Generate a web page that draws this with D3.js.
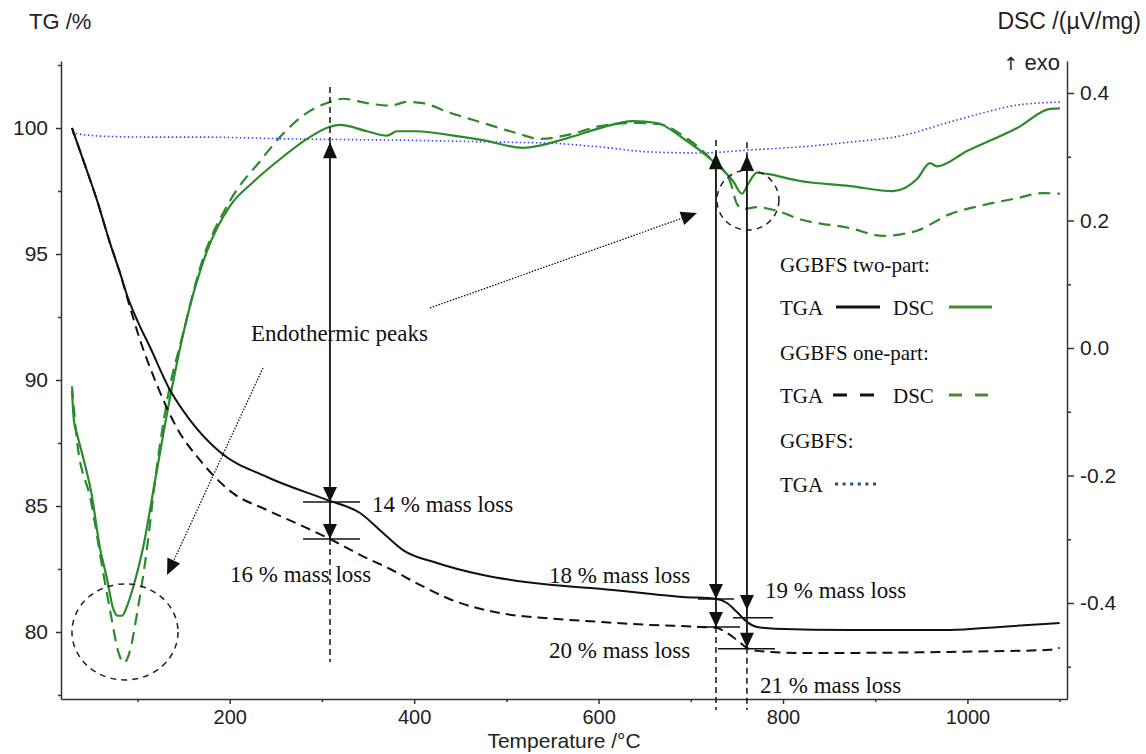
<!DOCTYPE html>
<html>
<head>
<meta charset="utf-8">
<script src="https://cdn.jsdelivr.net/npm/d3@7"></script>
<style>
  body { margin: 0; background: #fff; }
  .axis text { font-family: "Liberation Sans", Arial, sans-serif; font-size: 21px; fill: #222; }
  .axis path, .axis line { stroke: #333; stroke-width: 1.5; }
  .title { font-family: "Liberation Sans", Arial, sans-serif; font-size: 22px; fill: #222; }
  .note { font-family: "Liberation Serif", "Times New Roman", serif; fill: #111; }
</style>
</head>
<body>
<svg id="chart"></svg>
<script>
// [temperature /°C, TG /%]
const tgTwoPart = [
  [28.9, 100.0], [43.0, 98.53], [56.0, 97.14], [70.1, 95.44], [81.0, 94.25], [89.7, 93.25],
  [100.5, 92.30], [113.5, 91.31], [135.2, 89.60], [156.9, 88.41], [189.4, 87.14], [240.4, 86.15],
  [305.5, 85.24], [341.3, 84.72], [366.2, 83.93], [387.9, 83.25], [424.8, 82.74], [474.7, 82.26],
  [547.3, 81.87], [601.5, 81.72], [691.5, 81.39], [728.4, 81.31], [739.2, 81.15], [750.1, 80.79],
  [760.9, 80.40], [771.8, 80.20], [791.3, 80.13], [872.7, 80.08], [981.1, 80.08], [1035.0, 80.2],
  [1100.0, 80.36]
];
const tgOnePart = [
  [28.9, 100.0], [43.0, 98.53], [56.0, 97.14], [70.1, 95.44], [81.0, 94.25], [88.6, 93.29],
  [102.7, 91.59], [121.1, 89.80], [142.8, 88.09], [167.7, 86.82], [203.5, 85.51], [240.4, 84.84],
  [276.2, 84.25], [308.7, 83.69], [341.3, 83.06], [373.8, 82.50], [406.3, 81.87], [438.9, 81.30],
  [493.1, 80.75], [547.3, 80.54], [601.5, 80.40], [655.8, 80.28], [710.0, 80.20], [728.4, 80.16],
  [739.2, 79.96], [750.1, 79.68], [760.9, 79.37], [771.8, 79.25], [818.4, 79.17], [872.7, 79.17],
  [981.1, 79.21], [1089.0, 79.29], [1100.0, 79.37]
];
const tgSlag = [
  [28.9, 99.80], [59.3, 99.68], [113.5, 99.64], [167.7, 99.64], [276.2, 99.56], [384.6, 99.52],
  [493.1, 99.44], [547.3, 99.40], [601.5, 99.25], [655.8, 99.05], [710.0, 99.01], [764.2, 99.13],
  [818.4, 99.25], [872.7, 99.44], [926.9, 99.68], [981.1, 100.24], [1016.9, 100.60],
  [1053.8, 100.91], [1100.4, 101.03]
];
// [temperature /°C, DSC /(µV/mg)]
const dscTwoPart = [
  [28.9, -0.067], [31.1, -0.115], [34.4, -0.135], [41.9, -0.177], [49.5, -0.224], [59.3, -0.314],
  [66.9, -0.362], [73.4, -0.408], [78.8, -0.420], [83.2, -0.420], [88.6, -0.405], [95.1, -0.376],
  [105.9, -0.314], [118.9, -0.209], [135.2, -0.078], [153.6, 0.047], [175.3, 0.152], [200.3, 0.223],
  [225.2, 0.260], [257.8, 0.300], [283.8, 0.328], [308.7, 0.347], [319.6, 0.350], [348.9, 0.340],
  [370.5, 0.333], [381.4, 0.340], [403.1, 0.340], [438.9, 0.334], [474.7, 0.326], [518.0, 0.314],
  [565.8, 0.329], [601.5, 0.345], [637.3, 0.356], [663.4, 0.353], [691.5, 0.329], [724.1, 0.293],
  [745.8, 0.262], [755.5, 0.242], [762.1, 0.257], [771.8, 0.275], [782.7, 0.273], [818.4, 0.262],
  [872.7, 0.254], [919.3, 0.246], [945.3, 0.265], [959.4, 0.290], [967.0, 0.285], [999.6, 0.309],
  [1053.8, 0.345], [1089.6, 0.375], [1100.4, 0.376]
];
const dscOnePart = [
  [28.9, -0.060], [34.4, -0.146], [49.5, -0.240], [62.5, -0.350], [72.3, -0.428], [78.8, -0.475],
  [85.3, -0.494], [91.8, -0.475], [99.4, -0.417], [110.3, -0.314], [118.9, -0.209], [132.0, -0.083],
  [149.3, 0.022], [167.7, 0.125], [200.3, 0.231], [232.8, 0.293], [257.8, 0.336], [287.0, 0.372],
  [308.7, 0.386], [322.8, 0.391], [348.9, 0.384], [373.8, 0.380], [392.2, 0.386], [409.6, 0.384],
  [438.9, 0.369], [474.7, 0.353], [511.5, 0.337], [536.5, 0.328], [565.8, 0.334], [601.5, 0.348],
  [637.3, 0.353], [666.6, 0.351], [691.5, 0.333], [720.8, 0.298], [742.5, 0.262], [750.1, 0.226],
  [756.6, 0.218], [771.8, 0.221], [793.5, 0.215], [818.4, 0.202], [872.7, 0.188], [908.5, 0.176],
  [945.3, 0.184], [981.1, 0.210], [1016.9, 0.224], [1053.8, 0.235], [1082.0, 0.243], [1100.4, 0.242]
];

const xTicks = [200, 400, 600, 800, 1000];
const xMinor = [100, 300, 500, 700, 900, 1100];
const tgTicks = [80, 85, 90, 95, 100];
const tgMinor = [77.5, 82.5, 87.5, 92.5, 97.5, 102.5];
const dscTicks = [-0.4, -0.2, 0.0, 0.2, 0.4];
const dscMinor = [-0.5, -0.3, -0.1, 0.1, 0.3];

// mass-loss markers: vertical line at T, in TG units
const markers = [
  { T: 308.7, top: 101.63, up: 99.44, downs: [85.16, 83.69], bottom: 78.81,
    ticks: [[85.16, 279.5, 341.3], [83.69, 279.5, 341.3]] },
  { T: 727.3, top: 99.52, up: 99.0, downs: [81.31, 80.2], bottom: 76.9,
    ticks: [[81.31, 707.8, 746.9], [80.2, 706.7, 753.4]] },
  { T: 760.9, top: 99.44, up: 98.93, downs: [80.87, 79.37], bottom: 76.9,
    ticks: [[80.56, 745.8, 789.2], [79.33, 729.5, 791.3]] }
];
const massLabels = [
  ['14 % mass loss', 354.3, 84.76], ['16 % mass loss', 200.3, 81.98],
  ['18 % mass loss', 546.2, 81.94], ['19 % mass loss', 780.5, 81.35],
  ['20 % mass loss', 546.2, 78.97], ['21 % mass loss', 775.1, 77.58]
];
// dotted pointers [fromT, fromTG, toT, toTG]
const pointers = [[417.2, 92.86, 706.7, 96.63], [236.1, 90.48, 132.0, 82.26]];
// dashed rings [T, TG, rT, rTG]
const rings = [[86.4, 80.0, 57.5, 1.905], [762.0, 97.14, 33.6, 1.19]];

const config = {
  width: 1146, height: 754,
  left: 61, right: 1067, top: 61, bottom: 699,
  green: '#2b8a2b', black: '#111', blue: '#3d3dff'
};

const svg = d3.select('#chart')
  .attr('width', config.width)
  .attr('height', config.height);

const x = d3.scaleLinear().domain([17, 1108]).range([config.left, config.right]);
const yTG = d3.scaleLinear().domain([77.34, 102.66]).range([config.bottom, config.top]);
const yDSC = d3.scaleLinear().domain([-0.5506, 0.4502]).range([config.bottom, config.top]);

// axes
svg.append('g').attr('class', 'axis')
  .attr('transform', 'translate(0,' + config.bottom + ')')
  .call(d3.axisBottom(x).tickValues(xTicks).tickSize(5).tickSizeOuter(0).tickPadding(6).tickFormat(d3.format('d')))
  .call(g => g.selectAll('text').style('font-size', '20px'));
svg.append('g').attr('class', 'axis')
  .attr('transform', 'translate(0,' + config.bottom + ')')
  .call(d3.axisBottom(x).tickValues(xMinor).tickSize(3).tickSizeOuter(0).tickFormat(''))
  .call(g => g.select('.domain').remove());

svg.append('g').attr('class', 'axis')
  .attr('transform', 'translate(' + config.left + ',0)')
  .call(d3.axisLeft(yTG).tickValues(tgTicks).tickSize(5).tickSizeOuter(0).tickPadding(8).tickFormat(d3.format('d')));
svg.append('g').attr('class', 'axis')
  .attr('transform', 'translate(' + config.left + ',0)')
  .call(d3.axisLeft(yTG).tickValues(tgMinor).tickSize(3).tickSizeOuter(0).tickFormat(''))
  .call(g => g.select('.domain').remove());

svg.append('g').attr('class', 'axis')
  .attr('transform', 'translate(' + config.right + ',0)')
  .call(d3.axisRight(yDSC).tickValues(dscTicks).tickSize(7).tickSizeOuter(0).tickPadding(6).tickFormat(d => d.toFixed(1)));
svg.append('g').attr('class', 'axis')
  .attr('transform', 'translate(' + config.right + ',0)')
  .call(d3.axisRight(yDSC).tickValues(dscMinor).tickSize(4).tickSizeOuter(0).tickFormat(''))
  .call(g => g.select('.domain').remove());

// titles
svg.append('text').attr('class', 'title').attr('x', 29).attr('y', 29).text('TG /%');
svg.append('text').attr('class', 'title').attr('x', 1141).attr('y', 29)
  .attr('text-anchor', 'end').style('font-size', '23px').text('DSC /(µV/mg)');
const exo = svg.append('text').attr('class', 'title').attr('x', 1060).attr('y', 70)
  .attr('text-anchor', 'end');
exo.append('tspan').style('font-family', '"DejaVu Sans", sans-serif').style('font-size', '18px')
  .attr('fill', '#222').text('↑');
exo.append('tspan').text(' exo');
svg.append('text').attr('class', 'title').attr('x', 564).attr('y', 748)
  .attr('text-anchor', 'middle').style('font-size', '21px').text('Temperature /°C');

// curves
const lineTG = d3.line().x(d => x(d[0])).y(d => yTG(d[1])).curve(d3.curveMonotoneX);
const lineDSC = d3.line().x(d => x(d[0])).y(d => yDSC(d[1])).curve(d3.curveMonotoneX);

const series = [
  { data: tgSlag, line: lineTG, color: config.blue, width: 1.6, dash: '1.5,2.5' },
  { data: dscOnePart, line: lineDSC, color: config.green, width: 2.2, dash: '12,7' },
  { data: dscTwoPart, line: lineDSC, color: config.green, width: 2.2, dash: null },
  { data: tgOnePart, line: lineTG, color: config.black, width: 2, dash: '10,6' },
  { data: tgTwoPart, line: lineTG, color: config.black, width: 2, dash: null }
];
svg.append('g').selectAll('path')
  .data(series)
  .enter().append('path')
  .attr('fill', 'none')
  .attr('stroke', d => d.color)
  .attr('stroke-width', d => d.width)
  .attr('stroke-dasharray', d => d.dash)
  .attr('d', d => d.line(d.data));

// arrowhead with tip at (px,py) pointing along angle (radians)
function arrowHead(g, px, py, angle, len, half) {
  const bx = px - len * Math.cos(angle);
  const by = py - len * Math.sin(angle);
  const nx = -Math.sin(angle) * half;
  const ny = Math.cos(angle) * half;
  g.append('path')
    .attr('d', 'M' + px + ',' + py + 'L' + (bx + nx) + ',' + (by + ny) + 'L' + (bx - nx) + ',' + (by - ny) + 'Z')
    .attr('fill', config.black);
}

const ann = svg.append('g');
markers.forEach(m => {
  const mx = x(m.T);
  ann.append('line').attr('x1', mx).attr('x2', mx).attr('y1', yTG(m.top)).attr('y2', yTG(m.up))
    .attr('stroke', config.black).attr('stroke-width', 1.5).attr('stroke-dasharray', '6,4');
  const last = m.downs[m.downs.length - 1];
  ann.append('line').attr('x1', mx).attr('x2', mx).attr('y1', yTG(m.up)).attr('y2', yTG(last))
    .attr('stroke', config.black).attr('stroke-width', 1.8);
  ann.append('line').attr('x1', mx).attr('x2', mx).attr('y1', yTG(last)).attr('y2', yTG(m.bottom))
    .attr('stroke', config.black).attr('stroke-width', 1.5).attr('stroke-dasharray', '6,4');
  arrowHead(ann, mx, yTG(m.up), -Math.PI / 2, 16, 7);
  m.downs.forEach(v => arrowHead(ann, mx, yTG(v), Math.PI / 2, 15, 7));
  m.ticks.forEach(t => {
    ann.append('line').attr('x1', x(t[1])).attr('x2', x(t[2])).attr('y1', yTG(t[0])).attr('y2', yTG(t[0]))
      .attr('stroke', config.black).attr('stroke-width', 1.5);
  });
});

pointers.forEach(p => {
  const x1 = x(p[0]), y1 = yTG(p[1]), x2 = x(p[2]), y2 = yTG(p[3]);
  const a = Math.atan2(y2 - y1, x2 - x1);
  ann.append('line').attr('x1', x1).attr('y1', y1)
    .attr('x2', x2 - 12 * Math.cos(a)).attr('y2', y2 - 12 * Math.sin(a))
    .attr('stroke', config.black).attr('stroke-width', 1.3).attr('stroke-dasharray', '1.5,1.5');
  arrowHead(ann, x2, y2, a, 16, 7);
});

rings.forEach(r => {
  ann.append('ellipse')
    .attr('cx', x(r[0])).attr('cy', yTG(r[1]))
    .attr('rx', x(r[0] + r[2]) - x(r[0])).attr('ry', yTG(r[1] - r[3]) - yTG(r[1]))
    .attr('fill', 'none').attr('stroke', '#222').attr('stroke-width', 1.5).attr('stroke-dasharray', '6,5');
});

// labels
ann.selectAll('text.mass')
  .data(massLabels)
  .enter().append('text')
  .attr('class', 'note mass')
  .attr('x', d => x(d[1])).attr('y', d => yTG(d[2]))
  .style('font-size', '23px')
  .text(d => d[0]);
ann.append('text').attr('class', 'note').attr('x', x(223)).attr('y', yTG(91.55))
  .style('font-size', '23px').text('Endothermic peaks');

// legend
const legend = svg.append('g').attr('class', 'note').style('font-size', '21px');
const legendRows = [
  { y: 272, text: 'GGBFS two-part:' },
  { y: 315, text: 'TGA', keys: [{ x1: 836, x2: 880, color: config.black, dash: null }] },
  { y: 360, text: 'GGBFS one-part:' },
  { y: 403, text: 'TGA', keys: [{ x1: 833, x2: 875, color: config.black, dash: '14,13' }] },
  { y: 448, text: 'GGBFS:' },
  { y: 492, text: 'TGA', keys: [{ x1: 835, x2: 877, color: '#1f4e8c', dash: '3,4.6' }] }
];
legendRows.forEach(r => {
  legend.append('text').attr('x', 780).attr('y', r.y).text(r.text);
  (r.keys || []).forEach(k => {
    legend.append('line').attr('x1', k.x1).attr('x2', k.x2).attr('y1', r.y - 8).attr('y2', r.y - 8)
      .attr('stroke', k.color).attr('stroke-width', 3).attr('stroke-dasharray', k.dash);
  });
});
[[315, null], [403, '13,13']].forEach(d => {
  legend.append('text').attr('x', 893).attr('y', d[0]).text('DSC');
  legend.append('line').attr('x1', 949).attr('x2', 992).attr('y1', d[0] - 8).attr('y2', d[0] - 8)
    .attr('stroke', '#4a8a30').attr('stroke-width', 3).attr('stroke-dasharray', d[1]);
});
</script>
</body>
</html>
